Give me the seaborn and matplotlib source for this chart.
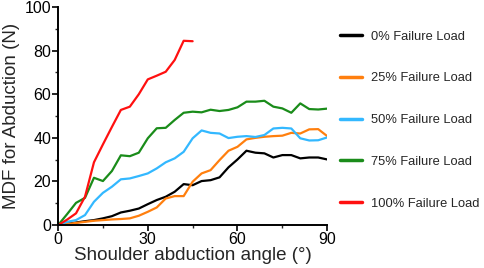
import numpy as np
import pandas as pd
import seaborn as sns
import matplotlib.pyplot as plt
from matplotlib.ticker import MultipleLocator

# angle grid (deg), 3 degree steps
angle = list(range(0, 93, 3))

load_0 = [0, 0.6, 1.2, 1.8, 2.3, 3.1, 4.1, 5.8, 6.6, 7.6, 9.6, 11.5, 13.0, 15.3, 18.8, 18.3,
          20.2, 20.6, 21.9, 26.5, 30.1, 34.1, 33.2, 32.9, 31.0, 32.1, 32.1, 30.6, 31.0, 31.0, 30.1]
load_25 = [0, 0.5, 1.0, 1.5, 2.0, 2.3, 2.6, 2.8, 3.1, 4.3, 6.1, 8.1, 12.2, 13.3, 13.3, 19.9,
           23.7, 25.2, 29.8, 34.1, 35.9, 39.3, 40.0, 40.5, 40.8, 41.0, 42.3, 42.0, 43.9, 44.0, 40.8]
load_50 = [0, 1.5, 2.3, 4.6, 10.7, 14.8, 17.6, 21.0, 21.4, 22.5, 23.7, 26.0, 28.8, 30.6, 33.6, 39.8,
           43.4, 42.3, 42.0, 39.9, 40.5, 40.8, 40.4, 41.3, 44.3, 44.6, 44.3, 39.8, 38.8, 38.9, 40.2]
load_75 = [0, 5.0, 10.2, 12.5, 21.7, 20.2, 24.8, 32.0, 31.6, 33.2, 39.8, 44.4, 44.6, 48.2, 51.5, 52.0,
           51.7, 52.9, 52.3, 52.8, 54.0, 56.6, 56.6, 57.0, 54.3, 53.5, 51.5, 55.8, 53.2, 53.0, 53.4]
load_100 = [0, 2.5, 5.4, 13.0, 28.8, 37.0, 45.0, 52.8, 54.3, 60.0, 66.8, 68.5, 70.3, 75.7, 84.5, 84.3]

labels = ["0% Failure Load", "25% Failure Load", "50% Failure Load",
          "75% Failure Load", "100% Failure Load"]
colors = ["#000000", "#FF7F0E", "#33B8FF", "#1A8C1A", "#FF1010"]

rows = []
for lab, vals in zip(labels, [load_0, load_25, load_50, load_75, load_100]):
    for a, v in zip(angle, vals):
        rows.append({"angle": a, "mdf": v, "load": lab})
df = pd.DataFrame(rows)

sns.set_theme(style="ticks")
plt.rcParams["font.family"] = ["Liberation Sans", "DejaVu Sans"]

fig = plt.figure(figsize=(4.84, 2.68), dpi=100)
ax = fig.add_axes([0.12, 0.16, 0.556, 0.814])
sns.lineplot(data=df, x="angle", y="mdf", hue="load", hue_order=labels,
             palette=colors, linewidth=1.6, ax=ax, estimator=None, sort=False)

ax.set_xlim(0, 90)
ax.set_ylim(0, 100)
ax.xaxis.set_major_locator(MultipleLocator(30))
ax.xaxis.set_minor_locator(MultipleLocator(15))
ax.yaxis.set_major_locator(MultipleLocator(20))
ax.yaxis.set_minor_locator(MultipleLocator(10))
ax.tick_params(which="major", length=4, width=1.2, labelsize=11.5, pad=1, colors="black")
ax.tick_params(which="minor", length=2.5, width=1.0)
for s in ["left", "bottom"]:
    ax.spines[s].set_linewidth(1.4)
    ax.spines[s].set_color("black")
sns.despine(ax=ax)
ax.set_xlabel("Shoulder abduction angle (°)", fontsize=13.5, labelpad=0)
ax.set_ylabel("MDF for Abduction (N)", fontsize=13.5, labelpad=3)

ax.legend(loc="upper left", bbox_to_anchor=(1.03, 0.915), frameon=False,
          fontsize=9.3, handlelength=1.7, handletextpad=0.7, labelspacing=2.3,
          borderaxespad=0)
for h in ax.get_legend().get_lines():
    h.set_linewidth(2.5)

fig.savefig("out.png", dpi=100)
